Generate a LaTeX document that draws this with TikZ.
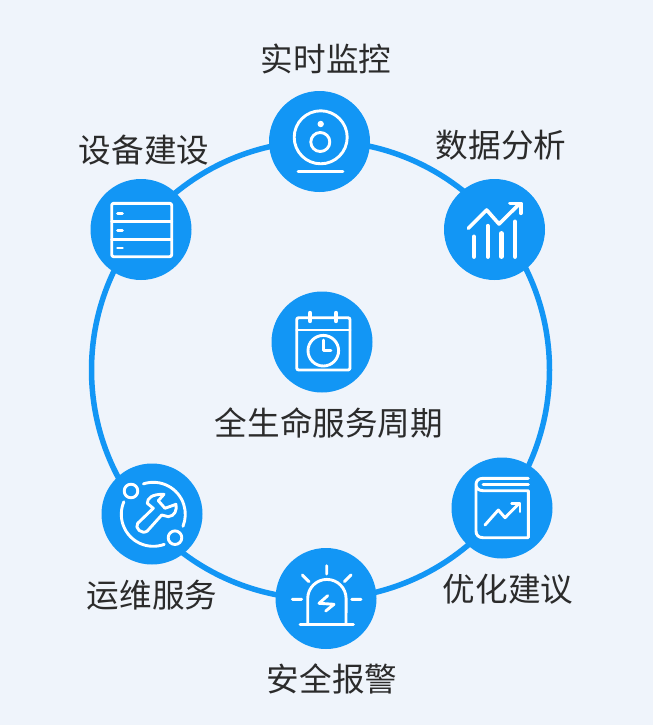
\documentclass[tikz,border=0pt]{standalone}
\usepackage{fontspec}
\usepackage{xcolor}
\newfontfamily\cjk{Noto Sans CJK SC}
\definecolor{pagebg}{HTML}{EFF4FB}
\definecolor{ringblue}{HTML}{1296F5}
\definecolor{labelgray}{HTML}{2B2B2B}
\tikzset{
    bubble/.style={circle,fill=ringblue,minimum size=101pt,inner sep=0pt},
    tag/.style={text=labelgray,inner sep=0pt,font=\cjk\fontsize{32.6}{36}\selectfont},
    icon/.style={draw=white,line width=2.9pt,line cap=round,line join=round},
}

\begin{document}
\begin{tikzpicture}[x=1pt,y=-1pt]
\useasboundingbox (0,0) rectangle (653,725);
\fill[pagebg] (0,0) rectangle (653,725);
\draw[ringblue,line width=5.5pt] (320.5,370) circle (229pt);
\foreach \x/\y/\name in {
    319.5/141.5/monitor, 141/229.5/build, 494.5/229.5/analyse, 322/342/cycle,
    152/514/service, 326/598.5/alarm, 502/508/advice
}{
    \node[bubble] (\name) at (\x,\y) {};
}
\foreach \x/\y/\name/\txt in {
    326/59/monitortag/实时监控, 144/150/buildtag/设备建设, 501/145/analysetag/数据分析,
    329/423/cycletag/全生命服务周期, 152/595/servicetag/运维服务,
    332/679/alarmtag/安全报警, 508/589/advicetag/优化建议
}{
    \node[tag] (\name) at (\x,\y) {\txt};
}
% camera
\draw[icon] (320.7,137.3) circle (26.5pt) (320.3,142) circle (9.5pt);
\fill[white] (320.7,124) circle (3.2pt);
\draw[icon] (298,171.7) -- (343,171.7);
% server
\draw[icon,rounded corners=2pt] (111.7,203.3) rectangle (171.7,256.7);
\draw[icon] (111.7,221.7) -- (171.7,221.7) (111.7,239.3) -- (171.7,239.3);
\foreach \y in {213.3,230.7,248}{
    \draw[icon] (117.5,\y) -- (122.5,\y);
}
% chart
\draw[icon,line width=3.6pt] (468.3,228.3) -- (486.7,210) -- (499,224) -- (518.3,205);
\draw[icon,line width=3.6pt] (510,203.3) -- (520.7,203.3) -- (520.7,213.3);
\foreach \x/\y in {474/236.7,487.7/226,501.3/233.3,515/221.7}{
    \draw[icon,line width=4.4pt] (\x,\y) -- (\x,256.7);
}
% calendar
\draw[icon,rounded corners=2pt] (296.7,317.7) rectangle (350,370);
\draw[icon] (296.7,330) -- (350,330);
\draw[icon,line width=4.4pt] (310,313) -- (310,321) (336,313) -- (336,321);
\draw[icon] (323.3,350.7) circle (15.3pt);
\draw[icon] (323.3,340) -- (323.3,350.7) -- (331,350.7);
% wrench
\coordinate (hub) at (153.3,514.3);
\draw[icon] ([shift={(108:32pt)}]hub) arc[start angle=108,end angle=-22,radius=32pt];
\draw[icon] ([shift={(-70:32pt)}]hub) arc[start angle=-70,end angle=-203,radius=32pt];
\draw[icon] (131,491) circle (6.8pt) (175,537.7) circle (6.8pt);
\draw[icon] (137.7,523.3) -- (153.3,508.3) -- (147.3,503.3) .. controls (147.3,498) and (152,494) .. (164,494.3)
    -- (158.3,500.7) -- (165,508.3) -- (176,504.3) .. controls (177,510) and (175,516) .. (168.3,516.7)
    -- (161.7,515) -- (147.3,531) .. controls (142,535) and (134,528) .. (137.7,523.3) -- cycle;
% alarm
\draw[icon] (300,624.3) -- (353.3,624.3);
\draw[icon] (307.7,624.3) -- (307.7,598.6) arc[start angle=180,end angle=0,radius=19.2pt] -- (346,624.3);
\draw[icon] (326.7,565.7) -- (326.7,574) (302.3,575) -- (309,581.7) (351,575) -- (344.3,581.7)
    (292.3,599.3) -- (301.7,599.3) (351.7,599.3) -- (361,599.3);
\draw[icon] (327.7,595.7) -- (319,603.3) -- (334,604.3) -- (325.7,611);
% book
\draw[icon] (528.3,478.3) -- (483,478.3) .. controls (478.5,478.3) and (476,481) .. (476,484.5)
    .. controls (476,488) and (478.5,490.7) .. (483,490.7) -- (528.3,490.7) -- (528.3,537.7) -- (483,537.7)
    .. controls (478.5,537.7) and (476,535) .. (476,531) -- (476,484.5);
\draw[icon] (483,484.5) -- (528.3,484.5);
\draw[icon] (485,525) -- (498.3,510) -- (505,517.7) -- (519.3,503.3);
\draw[icon] (511.7,503.3) -- (520,503.3) -- (520,511.7);
\end{tikzpicture}
\end{document}
